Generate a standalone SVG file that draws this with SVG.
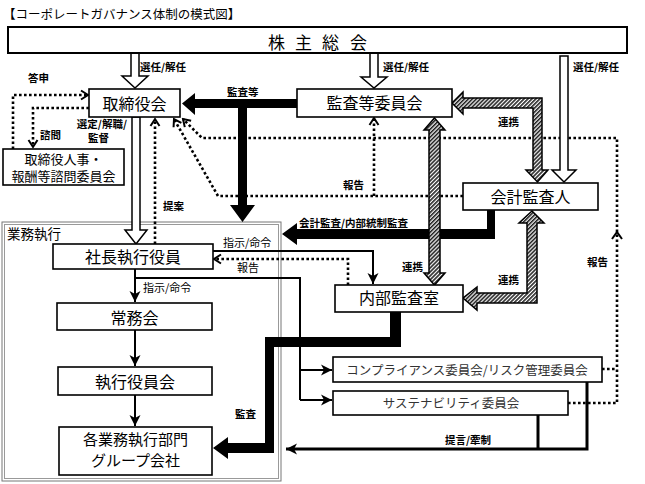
<svg xmlns="http://www.w3.org/2000/svg" width="645" height="484" viewBox="0 0 645 484">
<style>
text{font-family:"Noto Sans CJK JP","Noto Sans",sans-serif;fill:#000}
.n{font-size:16px;text-anchor:middle}
.s{font-size:13px;text-anchor:middle}
.c{font-size:12.5px;text-anchor:middle;fill:#333}
.l{font-size:10.5px;font-weight:bold}
.lr{font-size:11px}
.box{fill:#fff;stroke:#000;stroke-width:1.6}
.ln{fill:none;stroke:#000;stroke-width:2}
.dot{fill:none;stroke:#000;stroke-width:2.6;stroke-dasharray:2.6 2.4}
.hol{fill:#fff;stroke:#000;stroke-width:1.5;stroke-linejoin:miter}
.hat{fill:url(#hatch);stroke:#000;stroke-width:1.5}
.blk{fill:#000;stroke:none}
</style>
<defs>
<pattern id="hatch" patternUnits="userSpaceOnUse" width="2.8" height="2.8" patternTransform="rotate(45)">
<rect width="2.8" height="2.8" fill="#fff"/>
<line x1="0.8" y1="0" x2="0.8" y2="2.8" stroke="#222" stroke-width="1.6"/>
</pattern>
<marker id="arr" markerUnits="userSpaceOnUse" viewBox="-11 -6 12 12" markerWidth="12" markerHeight="12" refX="0" refY="0" orient="auto">
<path d="M-11,-5.5 L0,0 L-11,5.5 L-8,0 z" fill="#000"/>
</marker>
<marker id="chev" markerUnits="userSpaceOnUse" viewBox="-9 -6 11 12" markerWidth="11" markerHeight="12" refX="0" refY="0" orient="auto">
<path d="M-7,-4.5 L0,0 L-7,4.5" fill="none" stroke="#000" stroke-width="2"/>
</marker>
</defs>
<rect width="645" height="484" fill="#fff"/>
<text x="3" y="19" style="font-size:12.5px">【コーポレートガバナンス体制の模式図】</text>

<g id="frame-gyomu">
<rect x="2" y="222" width="279" height="259" fill="none" stroke="#777" stroke-width="1"/>
<rect x="4.5" y="224.5" width="274" height="254" fill="none" stroke="#999" stroke-width="1"/>
<text x="7" y="239" style="font-size:13.5px">業務執行</text>
</g>

<g id="connectors">
<polyline class="dot" points="13,149 13,95 88,95" marker-end="url(#chev)"/>
<polyline class="dot" points="89,108 33,108 33,147" marker-end="url(#chev)"/>
<polyline class="dot" points="155,244 155,119" marker-end="url(#chev)"/>
<polyline class="dot" points="348,285 348,259 214,259" marker-end="url(#chev)"/>
<polyline class="dot" points="374,196 374,118" marker-end="url(#chev)"/>
<polyline class="dot" points="463,196 218,196 174,119" marker-end="url(#chev)"/>
<polyline class="dot" points="602,369 617,369"/>
<polyline class="dot" points="568,403 617,403 617,138 202,138 183,119" marker-end="url(#chev)"/>
<polyline points="612,239 617,232 622,239" fill="none" stroke="#000" stroke-width="2"/>
<line class="ln" x1="135" y1="269" x2="135" y2="302" marker-end="url(#arr)"/>
<line class="ln" x1="135" y1="330" x2="135" y2="366" marker-end="url(#arr)"/>
<line class="ln" x1="135" y1="395" x2="135" y2="426" marker-end="url(#arr)"/>
<polyline class="ln" points="135,278 300,278 300,400"/>
<line class="ln" x1="300" y1="370" x2="332" y2="370" marker-end="url(#arr)"/>
<line class="ln" x1="300" y1="400" x2="332" y2="400" marker-end="url(#arr)"/>
<polyline class="ln" points="213,251 373,251 373,284" marker-end="url(#arr)"/>
<polyline class="ln" style="stroke-width:3" points="587,382 587,449 286,449" marker-end="url(#arr)"/>
<line class="ln" style="stroke-width:3" x1="538" y1="415" x2="538" y2="449"/>
<polygon class="blk" points="297,99 297,108 247,108 247,205 255,205 242.5,222 230,205 238,205 238,108 195,108 195,115 182,103.5 195,93 195,99"/>
<polygon class="blk" points="487,210 495,210 495,239 297,239 297,245 282,234 297,223 297,229 487,229"/>
<polygon class="blk" points="390,312 401,312 401,347 274,347 274,453 228,453 228,459 213,448 228,437 228,443 265,443 265,337 390,337"/>
<polygon class="hol" points="131,53 139,53 139,76 148,76 135,88 122,76 131,76"/>
<polygon class="hol" points="370,53 378,53 378,77 387,77 374,88 361,77 370,77"/>
<polygon class="hol" points="560,56 568,56 568,170 576,170 564,182 552,170 560,170"/>
<polygon class="hol" points="132,117 140,117 140,230 147,230 136,244 125,230 132,230"/>
<polygon class="hat" points="452,103 463,92 463,98 542,98 542,170 548,170 537.5,182 526,170 533,170 533,108 463,108 463,114"/>
<polygon class="hat" points="434.5,118 445,130 440,130 440,273 445,273 434.5,285 424,273 429,273 429,130 424,130"/>
<polygon class="hat" points="532,211 544,223 537,223 537,303 477,303 477,310 463,298 477,287 477,293 527,293 527,223 519,223"/>
<text class="l" x="140" y="71">選任/解任</text>
<text class="l" x="383" y="71">選任/解任</text>
<text class="l" x="573" y="71">選任/解任</text>
<text class="l" x="28" y="82">答申</text>
<text class="l" x="227" y="96">監査等</text>
<text class="l" x="498" y="126">連携</text>
<text class="l" x="127" y="128" text-anchor="end">選定/解職/</text>
<text class="l" x="88" y="142">監督</text>
<text class="l" x="40" y="139">諮問</text>
<text class="l" x="343" y="189">報告</text>
<text class="l" x="163" y="210">提案</text>
<text class="l" x="299" y="226.5">会計監査/内部統制監査</text>
<text class="lr" x="223" y="247">指示/命令</text>
<text class="lr" x="237" y="272">報告</text>
<text class="lr" x="143" y="292">指示/命令</text>
<text class="l" x="402" y="271">連携</text>
<text class="l" x="498" y="284">連携</text>
<text class="l" x="587" y="266">報告</text>
<text class="l" x="235" y="418">監査</text>
<text class="l" x="445" y="444">提言/牽制</text>
</g>

<g id="kabunushi">
<rect x="8" y="27" width="619" height="26" fill="#fff" stroke="#000" stroke-width="2"/>
<text x="268 285 295 312 322 339 350" y="49" style="font-size:17px">株 主 総 会</text>
</g>
<g id="torishimariyakukai">
<rect class="box" x="89" y="89" width="91" height="28"/>
<text class="n" x="134.5" y="110">取締役会</text>
</g>
<g id="kansatou">
<rect class="box" x="297" y="89" width="155" height="28"/>
<text class="n" x="374.5" y="109">監査等委員会</text>
</g>
<g id="shimon">
<rect class="box" x="3" y="149" width="121" height="36"/>
<text class="s" x="63.5" y="163.5">取締役人事・</text>
<text class="s" x="63.5" y="181">報酬等諮問委員会</text>
</g>
<g id="kaikei">
<rect class="box" x="463" y="183" width="135" height="27"/>
<text class="n" x="530.5" y="203">会計監査人</text>
</g>
<g id="shacho">
<rect class="box" x="53" y="244" width="160" height="25"/>
<text class="n" x="133" y="262.5">社長執行役員</text>
</g>
<g id="naibu">
<rect class="box" x="335" y="285" width="128" height="27"/>
<text class="n" x="399" y="303.5">内部監査室</text>
</g>
<g id="jomukai">
<rect class="box" x="57" y="303" width="155" height="27"/>
<text class="n" x="134.5" y="323.5">常務会</text>
</g>
<g id="shikko">
<rect class="box" x="58" y="367" width="154" height="28"/>
<text class="n" x="135" y="387.5">執行役員会</text>
</g>
<g id="kakubumon">
<rect class="box" x="59" y="427" width="153" height="48"/>
<text class="n" x="135.5" y="445" style="font-size:15px">各業務執行部門</text>
<text class="n" x="135.5" y="466" style="font-size:15px">グループ会社</text>
</g>
<g id="compliance">
<rect class="box" x="333" y="357" width="269" height="25"/>
<text class="c" x="467" y="374.5">コンプライアンス委員会/リスク管理委員会</text>
</g>
<g id="sustain">
<rect class="box" x="333" y="391" width="235" height="24"/>
<text class="c" x="451" y="408">サステナビリティ委員会</text>
</g>
</svg>
